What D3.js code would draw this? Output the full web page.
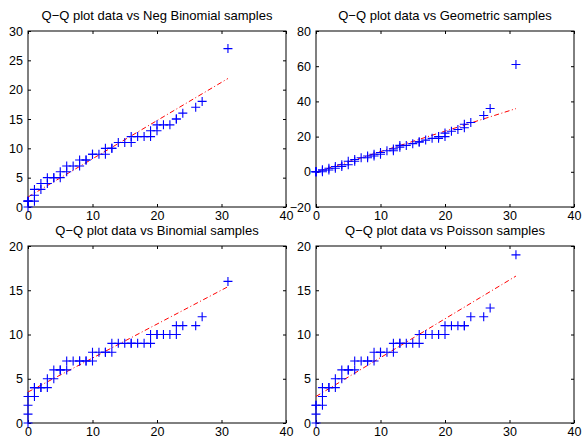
<!DOCTYPE html>
<html>
<head>
<meta charset="utf-8">
<script src="https://cdn.jsdelivr.net/npm/d3@7"></script>
<style>
  body { margin: 0; background: #fff; }
  svg { display: block; font-family: "Liberation Sans", Arial, Helvetica, sans-serif; }
  .tick text { fill: #000; }
</style>
</head>
<body>
<div class="chart"></div>
<script>
// sorted data quantiles (shared x of every panel)
const dataQ = [0,0,0,0,1,1,1,2,2,3,3,4,4,5,5,6,6,7,8,8,9,9,10,10,11,12,12,13,13,14,15,16,16,17,18,19,19,20,20,21,22,23,23,24,26,27,31];

// sorted sample quantiles for each fitted distribution
const negBinQ = [0,1,1,1,1,2,3,3,4,4,5,5,5,5,6,6,7,7,7,8,8,8,9,9,9,9,10,10,10,11,11,11,12,12,12,12,13,13,14,14,14,15,15,16,17,18,27];
const geoQ = [0,0,0,0,0,1,1,1,2,2,3,3,4,4,6,6,7,8,8,9,9,10,10,11,12,12,13,14,15,15,16,17,17,18,19,19,20,20,22,23,24,25,27,28,32,36,61];
const binomQ = [0,1,2,3,3,4,4,4,4,4,5,5,6,6,6,6,7,7,7,7,7,7,7,8,8,8,8,8,9,9,9,9,9,9,9,9,10,10,10,10,10,10,11,11,11,12,16];
const poisQ = [0,1,2,2,2,3,4,4,4,4,5,5,6,6,6,6,7,7,7,7,7,8,8,8,8,8,9,9,9,9,9,9,10,10,10,10,10,10,11,11,11,11,11,12,12,13,19];

// reference (quartile) lines: [x0, y0, x1, y1]
const negBinLine = [0, 1.7, 31, 21.9];
const geoLine = [0, -0.2, 31, 35.9];
const binomLine = [0, 3.5, 31, 15.4];
const poisLine = [0, 3.0, 31, 16.6];

const titles = [
  "Q\u2212Q plot data vs Neg Binomial samples",
  "Q\u2212Q plot data vs Geometric samples",
  "Q\u2212Q plot data vs Binomial samples",
  "Q\u2212Q plot data vs Poisson samples",
];
const xTicks = [0, 10, 20, 30, 40];
const yDomains = [[0, 30], [-20, 80], [0, 20], [0, 20]];
const yTickSteps = [5, 20, 5, 5];

const panels = [
  { title: titles[0], y: negBinQ, line: negBinLine, yDomain: yDomains[0], step: yTickSteps[0], box: [28, 31, 286, 207] },
  { title: titles[1], y: geoQ, line: geoLine, yDomain: yDomains[1], step: yTickSteps[1], box: [316, 31, 574, 207] },
  { title: titles[2], y: binomQ, line: binomLine, yDomain: yDomains[2], step: yTickSteps[2], box: [28, 246, 286, 423] },
  { title: titles[3], y: poisQ, line: poisLine, yDomain: yDomains[3], step: yTickSteps[3], box: [316, 246, 574, 423] },
];

const width = 582, height = 446;
const svg = d3.select(".chart").append("svg")
  .attr("width", width)
  .attr("height", height);

const fmt = d3.format("");

panels.forEach((p) => {
  const [x0, y0, x1, y1] = p.box;
  const x = d3.scaleLinear().domain([0, 40]).range([x0, x1]);
  const y = d3.scaleLinear().domain(p.yDomain).range([y1, y0]);
  const yTicks = d3.range(p.yDomain[0], p.yDomain[1] + 1, p.step);
  const g = svg.append("g");

  // axes with inward ticks, mirrored on top and right
  const bottom = g.append("g").attr("transform", `translate(0,${y1})`)
    .call(d3.axisBottom(x).tickValues(xTicks).tickFormat(fmt).tickSizeInner(-3).tickSizeOuter(0).tickPadding(4));
  const left = g.append("g").attr("transform", `translate(${x0},0)`)
    .call(d3.axisLeft(y).tickValues(yTicks).tickFormat(fmt).tickSizeInner(-3).tickSizeOuter(0).tickPadding(5));
  const top = g.append("g").attr("transform", `translate(0,${y0})`)
    .call(d3.axisTop(x).tickValues(xTicks).tickFormat("").tickSizeInner(-3).tickSizeOuter(0));
  const right = g.append("g").attr("transform", `translate(${x1},0)`)
    .call(d3.axisRight(y).tickValues(yTicks).tickFormat("").tickSizeInner(-3).tickSizeOuter(0));
  [bottom, left, top, right].forEach((a) => {
    a.select(".domain").remove();
    a.selectAll("line").attr("stroke", "#000").attr("stroke-width", 1);
    a.selectAll("text").attr("font-size", 12.5).attr("fill", "#000");
  });

  g.append("rect")
    .attr("x", x0).attr("y", y0)
    .attr("width", x1 - x0).attr("height", y1 - y0)
    .attr("fill", "none").attr("stroke", "#000").attr("stroke-width", 1);

  // reference line
  g.append("line")
    .attr("x1", x(p.line[0])).attr("y1", y(p.line[1]))
    .attr("x2", x(p.line[2])).attr("y2", y(p.line[3]))
    .attr("stroke", "#ff0000").attr("stroke-width", 1)
    .attr("stroke-dasharray", "5,2.5,1,2.5");

  // plus markers
  const pts = dataQ.map((d, i) => [d, p.y[i]]);
  g.append("g").selectAll("path").data(pts).join("path")
    .attr("d", (d) => {
      const cx = x(d[0]), cy = y(d[1]), r = 4.5;
      return `M${cx - r},${cy}H${cx + r}M${cx},${cy - r}V${cy + r}`;
    })
    .attr("stroke", "#0000ff").attr("stroke-width", 1.1).attr("fill", "none");

  g.append("text")
    .attr("x", (x0 + x1) / 2).attr("y", y0 - 11)
    .attr("text-anchor", "middle")
    .attr("font-size", 13)
    .attr("fill", "#000")
    .text(p.title);
});
</script>
</body>
</html>
